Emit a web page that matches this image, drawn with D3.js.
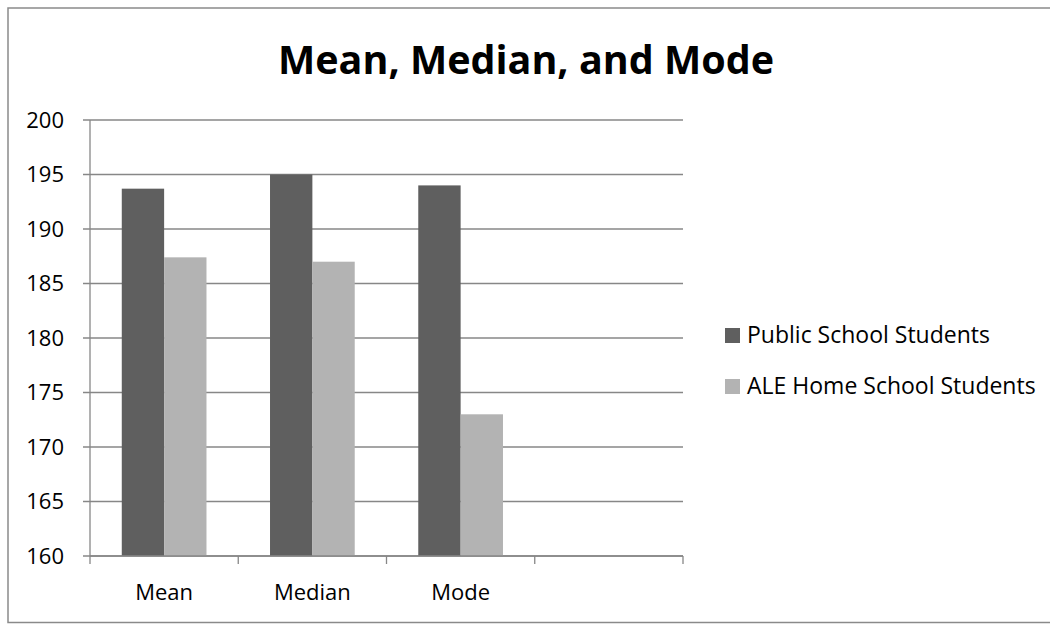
<!DOCTYPE html>
<html>
<head>
<meta charset="utf-8">
<script src="https://cdn.jsdelivr.net/npm/d3@7"></script>
<style>
  body { margin: 0; background: #fff; }
  svg { display: block; font-family: "Open Sans", "Noto Sans", sans-serif; }
</style>
</head>
<body>
<svg width="1050" height="625"></svg>
<script>
// chart data
var categories = ["Mean", "Median", "Mode", ""];
var seriesNames = ["Public School Students", "ALE Home School Students"];
var publicValues = [193.7, 195, 194];
var aleValues = [187.4, 187, 173];
var yTicks = [160, 165, 170, 175, 180, 185, 190, 195, 200];
var colors = ["#5f5f5f", "#b3b3b3"];

var svg = d3.select("svg");
var gridColor = "#878787";

// outer frame (right side runs off the picture)
svg.append("rect")
    .attr("x", 8).attr("y", 8)
    .attr("width", 1060).attr("height", 614.5)
    .attr("fill", "none")
    .attr("stroke", "#8a8a8a")
    .attr("stroke-width", 1.5);

var plotLeft = 90, plotRight = 683, plotTop = 120, plotBottom = 556;

var x = d3.scaleBand().domain(categories).range([plotLeft, plotRight]);
var xs = d3.scaleBand().domain(seriesNames).range([0, x.bandwidth()]).paddingOuter(0.75);
var y = d3.scaleLinear().domain([160, 200]).range([plotBottom, plotTop]);

// title
svg.append("text")
    .attr("x", 526).attr("y", 74)
    .attr("text-anchor", "middle")
    .attr("font-size", 39.5)
    .attr("font-weight", "bold")
    .text("Mean, Median, and Mode");

// gridlines
svg.append("g").selectAll("line")
    .data(yTicks)
    .enter().append("line")
    .attr("x1", plotLeft - 7).attr("x2", plotRight)
    .attr("y1", function(d) { return y(d); })
    .attr("y2", function(d) { return y(d); })
    .attr("stroke", gridColor)
    .attr("stroke-width", 1.3);

// bars
var rows = categories.slice(0, 3).map(function(c, i) {
    return {cat: c, values: [publicValues[i], aleValues[i]]};
});
svg.append("g").selectAll("g")
    .data(rows)
    .enter().append("g")
    .attr("transform", function(d) { return "translate(" + x(d.cat) + ",0)"; })
    .selectAll("rect")
    .data(function(d) { return d.values.map(function(v, j) { return {name: seriesNames[j], value: v, idx: j}; }); })
    .enter().append("rect")
    .attr("x", function(d) { return xs(d.name); })
    .attr("width", xs.bandwidth())
    .attr("y", function(d) { return y(d.value); })
    .attr("height", function(d) { return y(160) - y(d.value); })
    .attr("fill", function(d) { return colors[d.idx]; });

// y axis
var yAxis = svg.append("g")
    .attr("transform", "translate(" + plotLeft + ",0)")
    .call(d3.axisLeft(y).tickValues(yTicks).tickSize(0).tickPadding(26));
yAxis.select(".domain").remove();
yAxis.selectAll("text").attr("font-size", 22).attr("fill", "#000")
    .attr("font-family", "'Open Sans', sans-serif");
svg.append("line")
    .attr("x1", plotLeft).attr("x2", plotLeft)
    .attr("y1", plotTop).attr("y2", plotBottom)
    .attr("stroke", gridColor).attr("stroke-width", 1.3);

// x axis
var xAxis = svg.append("g")
    .attr("transform", "translate(0," + plotBottom + ")")
    .call(d3.axisBottom(x).tickSize(0).tickPadding(28));
xAxis.select(".domain").remove();
xAxis.selectAll("text").attr("font-size", 22).attr("fill", "#000")
    .attr("font-family", "'Open Sans', sans-serif");
svg.append("line")
    .attr("x1", plotLeft).attr("x2", plotRight)
    .attr("y1", plotBottom).attr("y2", plotBottom)
    .attr("stroke", gridColor).attr("stroke-width", 1.3);
var edges = categories.map(function(c) { return x(c); }).concat([plotRight]);
svg.append("g").selectAll("line")
    .data(edges)
    .enter().append("line")
    .attr("x1", function(d) { return d; }).attr("x2", function(d) { return d; })
    .attr("y1", plotBottom).attr("y2", plotBottom + 8)
    .attr("stroke", gridColor).attr("stroke-width", 1.3);

// legend
var legend = svg.append("g").selectAll("g")
    .data(seriesNames)
    .enter().append("g")
    .attr("transform", function(d, i) { return "translate(725," + (328 + i * 51) + ")"; });
legend.append("rect")
    .attr("width", 15).attr("height", 15)
    .attr("fill", function(d, i) { return colors[i]; });
legend.append("text")
    .attr("x", 22).attr("y", 15)
    .attr("font-size", 23)
    .text(function(d) { return d; });
</script>
</body>
</html>
